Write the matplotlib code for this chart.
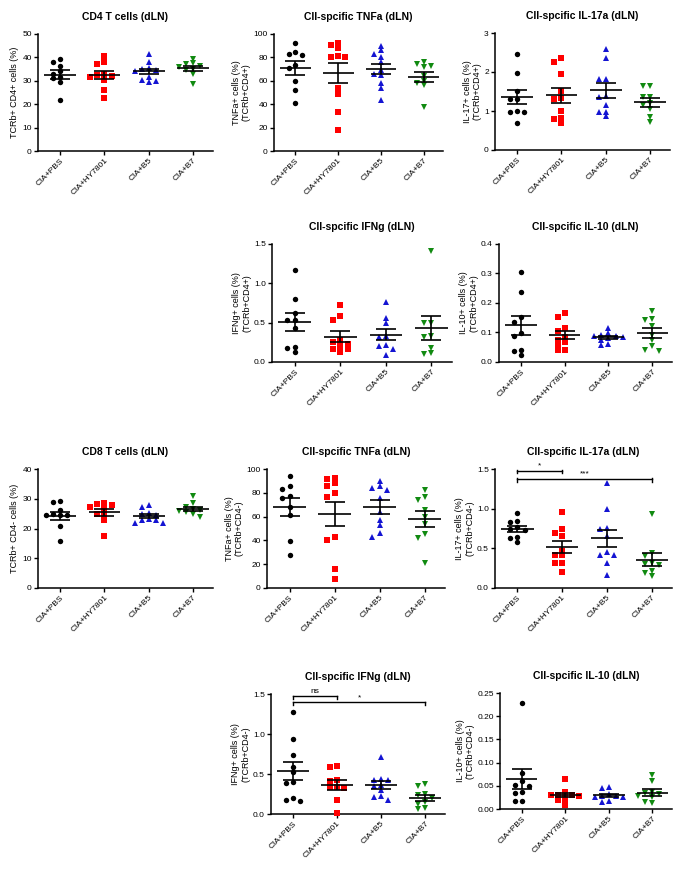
import numpy as np
import matplotlib
matplotlib.use("Agg")
import matplotlib.pyplot as plt

plt.rcParams['font.family'] = ['Liberation Sans', 'DejaVu Sans']

groups = ["CIA+PBS", "CIA+HY7801", "CIA+B5", "CIA+B7"]
colors = ["#000000", "#ff0000", "#1414d2", "#118a11"]
markers = ["o", "s", "^", "v"]

# CD4 panels
cd4_total = [[39.2, 38, 36.5, 34, 33, 31.5, 31, 29.3, 21.7],
             [40.5, 38, 37, 33, 32.5, 32, 31.5, 30.5, 26, 22.5],
             [41.5, 38, 35.5, 35, 34.5, 34, 31.5, 30.5, 30, 29.5],
             [39.5, 37.5, 37, 36.5, 36, 35, 34.5, 33, 28.5]]
cd4_tnfa = [[92, 85, 83, 82, 73.6, 70.8, 60.2, 52, 40.7],
            [91, 88, 92, 81, 80, 80, 54, 49, 33.5, 18],
            [90, 86, 83, 80, 76, 69, 66, 65, 58, 54, 44],
            [76, 74, 73, 72, 64, 60, 58, 56, 38]]
cd4_il17 = [[2.45, 1.97, 1.5, 1.32, 1.3, 1.0, 0.98, 0.98, 0.7],
            [2.35, 2.25, 1.95, 1.52, 1.33, 1.32, 1.0, 0.82, 0.8, 0.68],
            [2.6, 2.35, 1.83, 1.82, 1.38, 1.35, 1.15, 0.98, 0.98, 0.86],
            [1.65, 1.64, 1.37, 1.36, 1.2, 1.15, 1.05, 0.85, 0.72]]
cd4_ifng = [[1.17, 0.8, 0.62, 0.53, 0.54, 0.43, 0.19, 0.18, 0.13],
            [0.72, 0.58, 0.53, 0.28, 0.25, 0.23, 0.2, 0.16, 0.16, 0.13],
            [0.76, 0.56, 0.5, 0.33, 0.32, 0.21, 0.2, 0.17, 0.09],
            [1.41, 0.5, 0.49, 0.33, 0.32, 0.18, 0.12, 0.1]]
cd4_il10 = [[0.306, 0.236, 0.152, 0.137, 0.099, 0.088, 0.042, 0.036, 0.023],
            [0.166, 0.152, 0.115, 0.105, 0.085, 0.075, 0.067, 0.057, 0.042, 0.041],
            [0.115, 0.098, 0.092, 0.088, 0.088, 0.085, 0.08, 0.075, 0.06, 0.057],
            [0.172, 0.146, 0.141, 0.123, 0.091, 0.074, 0.053, 0.04, 0.038]]

# CD8 panels
cd8_total = [[29.2, 28.9, 26.1, 24.8, 24.6, 24.4, 24.6, 20.7, 15.9],
             [28.7, 28.4, 28, 27.3, 26.5, 25, 24.8, 23, 17.5],
             [27.8, 27.1, 25.3, 25.0, 24.6, 23.2, 23.0, 22.8, 21.8, 21.7],
             [31, 28.6, 27.2, 26.7, 26.2, 25.8, 25.4, 24.9, 23.9]]
cd8_tnfa = [[94, 85.5, 83.5, 77.5, 76, 68, 61.5, 39.5, 28],
            [92.7, 91.3, 88, 86, 79.6, 76.5, 43, 40, 16, 7.6],
            [90, 85.5, 84, 82.5, 75.5, 63.5, 57.5, 53, 46.5, 43],
            [82.4, 76.5, 74.2, 65.8, 59.7, 53.8, 45.4, 42, 21]]
cd8_il17 = [[0.94, 0.84, 0.83, 0.77, 0.75, 0.73, 0.64, 0.63, 0.58],
            [0.96, 0.74, 0.69, 0.66, 0.47, 0.42, 0.41, 0.31, 0.31, 0.2],
            [1.32, 1.0, 0.76, 0.74, 0.66, 0.46, 0.42, 0.42, 0.32, 0.16],
            [0.93, 0.44, 0.4, 0.32, 0.3, 0.29, 0.21, 0.19, 0.15]]
cd8_ifng = [[1.28, 0.94, 0.74, 0.59, 0.52, 0.4, 0.39, 0.2, 0.18, 0.16],
            [0.6, 0.59, 0.43, 0.41, 0.34, 0.34, 0.33, 0.17, 0.01],
            [0.71, 0.44, 0.43, 0.42, 0.36, 0.35, 0.3, 0.23, 0.21, 0.18],
            [0.38, 0.35, 0.25, 0.24, 0.2, 0.15, 0.13, 0.07, 0.06]]
cd8_il10 = [[0.229, 0.078, 0.06, 0.051, 0.05, 0.037, 0.034, 0.018, 0.017],
            [0.064, 0.037, 0.031, 0.031, 0.03, 0.029, 0.024, 0.022, 0.02, 0.008],
            [0.048, 0.046, 0.032, 0.029, 0.027, 0.026, 0.025, 0.017, 0.016],
            [0.074, 0.061, 0.036, 0.034, 0.033, 0.027, 0.025, 0.016, 0.014]]

# (data, title, ylabel, yticks, tick format, axes rect in pixels: left, top, right, bottom)
panels = [
    (cd4_total, "CD4 T cells (dLN)", "TCRb+ CD4+ cells (%)", np.arange(0, 51, 10), "%d", (38, 34, 213, 151)),
    (cd4_tnfa, "CII-spcific TNFa (dLN)", "TNFa+ cells (%)\n(TCRb+CD4+)", np.arange(0, 101, 20), "%d", (274, 34, 443, 151)),
    (cd4_il17, "CII-spcific IL-17a (dLN)", "IL-17+ cells (%)\n(TCRb+CD4+)", [0, 1, 2, 3], "%d", (495, 33, 670, 150)),
    (cd4_ifng, "CII-spcific IFNg (dLN)", "IFNg+ cells (%)\n(TCRb+CD4+)", [0, 0.5, 1.0, 1.5], "%.1f", (272, 244, 452, 362)),
    (cd4_il10, "CII-spcific IL-10 (dLN)", "IL-10+ cells (%)\n(TCRb+CD4+)", [0, 0.1, 0.2, 0.3, 0.4], "%.1f", (499, 244, 672, 362)),
    (cd8_total, "CD8 T cells (dLN)", "TCRb+ CD4- cells (%)", np.arange(0, 41, 10), "%d", (38, 469, 213, 588)),
    (cd8_tnfa, "CII-spcific TNFa (dLN)", "TNFa+ cells (%)\n(TCRb+CD4-)", np.arange(0, 101, 20), "%d", (267, 469, 445, 588)),
    (cd8_il17, "CII-spcific IL-17a (dLN)", "IL-17+ cells (%)\n(TCRb+CD4-)", [0, 0.5, 1.0, 1.5], "%.1f", (495, 469, 672, 588)),
    (cd8_ifng, "CII-spcific IFNg (dLN)", "IFNg+ cells (%)\n(TCRb+CD4-)", [0, 0.5, 1.0, 1.5], "%.1f", (271, 694, 445, 814)),
    (cd8_il10, "CII-spcific IL-10 (dLN)", "IL-10+ cells (%)\n(TCRb+CD4-)", [0, 0.05, 0.10, 0.15, 0.20, 0.25], "%.2f", (500, 693, 672, 809)),
]

# significance brackets: panel index -> list of (group a, group b, height, label)
brackets = {
    7: [(0, 1, 1.48, "*"), (0, 3, 1.375, "***")],
    8: [(0, 1, 1.47, "ns"), (0, 3, 1.395, "*")],
}

W, H = 682, 871


def swarm(vals, span, step=0.16):
    # simple beeswarm: spread points that overlap in y, at most two steps out
    vals = np.asarray(vals, dtype=float)
    thr = span * 0.04
    offs = np.zeros(len(vals))
    placed = []
    for i in np.argsort(vals)[::-1]:
        best, best_n = 0, 99
        for c in [0, -1, 1, -2, 2]:
            n = sum(1 for j in placed
                    if abs(vals[i] - vals[j]) < thr and abs(c * step - offs[j]) < step * 0.9)
            if n < best_n:
                best, best_n = c, n
            if n == 0:
                break
        offs[i] = best * step
        placed.append(i)
    return offs


fig = plt.figure(figsize=(W / 100, H / 100), dpi=100)

for k, (data, title, ylab, yt, fmt, rect) in enumerate(panels):
    l, t, r, b = rect
    ax = fig.add_axes([l / W, 1 - b / H, (r - l) / W, (b - t) / H])
    ymax = yt[-1]
    for g in range(4):
        vals = np.array(data[g], dtype=float)
        x = g + swarm(vals, ymax)
        ax.plot(x, vals, linestyle="none", marker=markers[g], color=colors[g],
                markersize=3.9, markeredgewidth=0, clip_on=False, zorder=3)
        m = vals.mean()
        sem = vals.std(ddof=1) / np.sqrt(len(vals))
        ax.hlines(m, g - 0.36, g + 0.36, color="black", linewidth=1.2, zorder=4)
        ax.errorbar(g, m, yerr=sem, fmt="none", ecolor="black", elinewidth=1.2,
                    capsize=7, capthick=1.2, zorder=4)
    ax.set_xlim(-0.5, 3.45)
    ax.set_ylim(0, ymax)
    ax.set_yticks(yt)
    ax.set_yticklabels([fmt % v for v in yt])
    ax.set_xticks(range(4))
    ax.set_xticklabels(groups, rotation=45, ha="right", rotation_mode="anchor")
    for s in ["top", "right"]:
        ax.spines[s].set_visible(False)
    for s in ["left", "bottom"]:
        ax.spines[s].set_linewidth(1.1)
    ax.tick_params(axis="both", length=3, width=1.0, labelsize=6, pad=1.5)
    ax.set_title(title, fontsize=7.5, fontweight="bold", pad=10)
    ax.set_ylabel(ylab, fontsize=6.5, labelpad=2, linespacing=1.1)

    for a, bb, h, lab in brackets.get(k, []):
        d = ymax * 0.022
        ax.plot([a, bb], [h, h], color="black", linewidth=1.0, clip_on=False)
        ax.plot([a, a], [h - d, h + d * 0.3], color="black", linewidth=1.0, clip_on=False)
        ax.plot([bb, bb], [h - d, h + d * 0.3], color="black", linewidth=1.0, clip_on=False)
        ax.text((a + bb) / 2, h + ymax * 0.01, lab, ha="center", va="bottom", fontsize=6)

fig.savefig("out.png", dpi=100)
